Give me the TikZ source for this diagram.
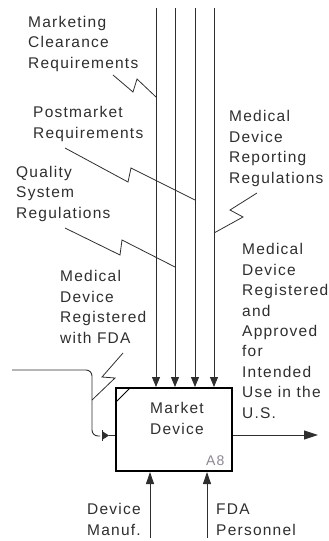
\documentclass[tikz,border=0pt]{standalone}
\usepackage{fontspec}
\setmainfont{Liberation Sans}[LetterSpace=8]
\usetikzlibrary{arrows.meta}
\definecolor{ink}{HTML}{2E2E2E}
\definecolor{tagc}{HTML}{8A8790}
\newcommand{\lblfont}{\fontsize{15.5}{20.4}\selectfont}
% multi-line labels are placed by the baseline of their last line
\tikzset{
  lbl/.style={font=\lblfont, align=left, inner sep=0pt, text=ink, anchor=base west},
  flow/.style={draw=ink, line width=0.9pt},
  squig/.style={draw=ink, line width=0.8pt, line join=miter},
  intip/.style={-{Triangle[length=10pt,width=8pt]}},
  outtip/.style={-{Triangle[length=14pt,width=9pt]}},
  uptip/.style={-{Triangle[length=12pt,width=8pt]}},
  activity/.style={draw=black, line width=2pt, minimum width=116pt, minimum height=83pt, inner sep=0pt}
}
\begin{document}
\begin{tikzpicture}[x=1pt,y=-1pt]
\useasboundingbox (0,0) rectangle (329,541);

% activity box
\node[activity] (act) at (174,429.5) {};
\draw[line width=1pt] (116,402) -- (130,388);
\node[font=\lblfont, align=center, inner sep=0pt, text=ink, anchor=base] (actname) at (177,434) {Market\\Device};
\node[font=\fontsize{14}{16}\selectfont, inner sep=0pt, text=tagc, anchor=base west] (acttag) at (206,465) {A8};

% controls entering from the top
\coordinate (c1) at (156,8);
\coordinate (c2) at (175,8);
\coordinate (c3) at (195,8);
\coordinate (c4) at (214,8);
\foreach \c in {c1,c2,c3,c4}
  \draw[flow, intip] (\c) -- (\c |- act.north);

% control labels and their squiggles
\node[lbl] (mcr) at (28,68) {Marketing\\Clearance\\Requirements};
\draw[squig] (113,75) -- (133,92) -- (137,79) -- (156,97);

\node[lbl] (pmr) at (33,138) {Postmarket\\Requirements};
\draw[squig] (65,148) -- (128,182) -- (131,168) -- (195,200);

\node[lbl] (qsr) at (16,218) {Quality\\System\\Regulations};
\draw[squig] (65,228) -- (120,255) -- (122,240) -- (175,267);

\node[lbl] (mdr) at (229,183) {Medical\\Device\\Reporting\\Regulations};
\draw[squig] (257,193) -- (230,210) -- (243,217) -- (214,233);

% input from the left
\node[lbl] (reg) at (60,343) {Medical\\Device\\Registered\\with FDA};
\coordinate (inA) at (12,370);
\draw[flow, rounded corners=6pt] (inA) -- (92,370) -- (92,436) -- (100,436);
\draw[squig] (123,353) -- (102,377) -- (115,378) -- (92,400);
\fill[ink] (102,431) -- (109,435.5) -- (102,440) -- cycle;
\draw[ink, line width=1.2pt] (102.3,430) -- (102.3,441);
\draw[flow] (109,435.5) -- (act.west |- 0,435.5);

% output to the right
\node[lbl] (outl) at (242,418) {Medical\\Device\\Registered\\and\\Approved\\for\\Intended\\Use in the\\U.S.};
\coordinate (outE) at (318,435);
\draw[flow, outtip] (act.east |- outE) -- (outE);

% mechanisms from below
\coordinate (m1) at (150,538);
\coordinate (m2) at (207,538);
\draw[flow, uptip] (m1) -- (m1 |- act.south);
\draw[flow, uptip] (m2) -- (m2 |- act.south);
\node[lbl] (dm) at (87,535) {Device\\Manuf.};
\node[lbl] (fp) at (216,535) {FDA\\Personnel};
\end{tikzpicture}
\end{document}
